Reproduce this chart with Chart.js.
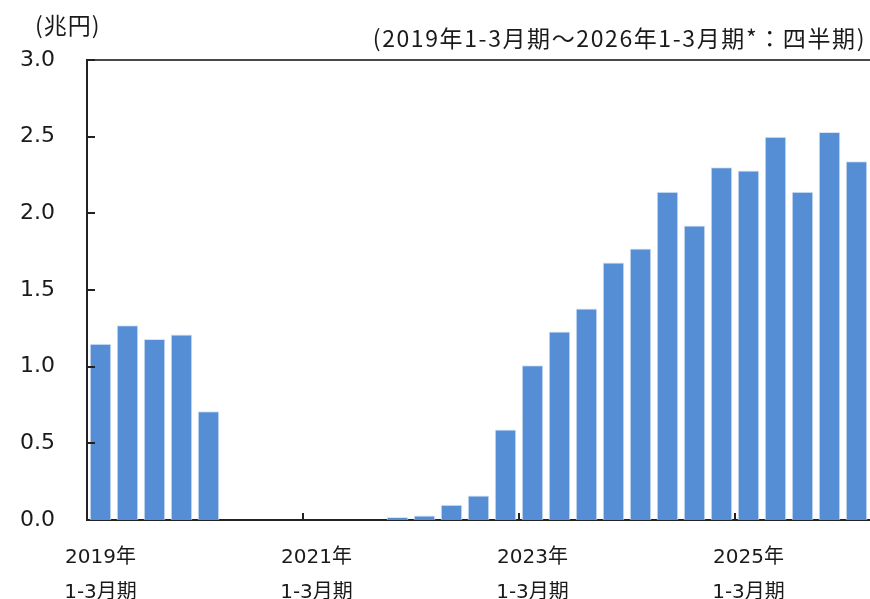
<!DOCTYPE html>
<html>
<head>
<meta charset="utf-8">
<script src="https://cdn.jsdelivr.net/npm/chart.js@4"></script>
<style>
  html, body { margin: 0; padding: 0; background: #fff; }
  #wrap { width: 870px; height: 599px; }
</style>
</head>
<body>
<div id="wrap"><canvas id="c" width="870" height="599"></canvas></div>
<script>
// Quarterly amounts (trillion yen), 2019 Jan-Mar to 2026 Jan-Mar
const quarters = [
  '2019年1-3月期', '2019年4-6月期', '2019年7-9月期', '2019年10-12月期',
  '2020年1-3月期', '2020年4-6月期', '2020年7-9月期', '2020年10-12月期',
  '2021年1-3月期', '2021年4-6月期', '2021年7-9月期', '2021年10-12月期',
  '2022年1-3月期', '2022年4-6月期', '2022年7-9月期', '2022年10-12月期',
  '2023年1-3月期', '2023年4-6月期', '2023年7-9月期', '2023年10-12月期',
  '2024年1-3月期', '2024年4-6月期', '2024年7-9月期', '2024年10-12月期',
  '2025年1-3月期', '2025年4-6月期', '2025年7-9月期', '2025年10-12月期',
  '2026年1-3月期'
];
const amounts = [
  1.15, 1.27, 1.18, 1.21,
  0.71, 0, 0, 0,
  0, 0, 0, 0.02,
  0.03, 0.10, 0.16, 0.59,
  1.01, 1.23, 1.38, 1.68,
  1.77, 2.14, 1.92, 2.30,
  2.28, 2.50, 2.14, 2.53,
  2.34
];
// Axis tick labels shown under every eighth quarter
const xTickLabels = {
  0: ['2019年', '1-3月期'],
  8: ['2021年', '1-3月期'],
  16: ['2023年', '1-3月期'],
  24: ['2025年', '1-3月期']
};
const yTicks = [0, 0.5, 1.0, 1.5, 2.0, 2.5, 3.0];
const unitLabel = '(兆円)';
const periodNote = '(2019年1-3月期～2026年1-3月期*：四半期)';

const FONT = '"DejaVu Sans", "Noto Sans CJK JP", sans-serif';
const HEADER_FONT = '23px "Noto Sans CJK JP", sans-serif';

// Inward tick marks, top frame line and header texts
const decor = {
  id: 'decor',
  afterDraw(chart) {
    const ctx = chart.ctx;
    const area = chart.chartArea;
    const xs = chart.scales.x, ys = chart.scales.y;
    ctx.save();
    ctx.strokeStyle = '#4a4a4a';
    ctx.lineWidth = 2;
    ctx.beginPath();
    ctx.moveTo(area.left, area.top);
    ctx.lineTo(area.right, area.top);
    ctx.stroke();

    ctx.strokeStyle = '#222';
    ctx.lineWidth = 2;
    yTicks.forEach(v => {
      if (v === 0) return;
      const y = Math.round(ys.getPixelForValue(v));
      ctx.beginPath();
      ctx.moveTo(area.left, y);
      ctx.lineTo(area.left + 8, y);
      ctx.stroke();
    });
    Object.keys(xTickLabels).forEach(k => {
      const i = Number(k);
      if (i === 0) return;
      const x = Math.round((xs.getPixelForValue(i - 1) + xs.getPixelForValue(i)) / 2);
      ctx.beginPath();
      ctx.moveTo(x, area.bottom);
      ctx.lineTo(x, area.bottom - 7);
      ctx.stroke();
    });

    ctx.fillStyle = '#1a1a1a';
    ctx.font = HEADER_FONT;
    ctx.textBaseline = 'alphabetic';
    ctx.letterSpacing = '1px';
    ctx.textAlign = 'left';
    ctx.fillText(unitLabel, 35, 34);
    ctx.letterSpacing = '1.6px';
    ctx.textAlign = 'right';
    ctx.fillText(periodNote, 866, 47);
    ctx.letterSpacing = '0px';
    ctx.restore();
  }
};

new Chart(document.getElementById('c'), {
  type: 'bar',
  data: {
    labels: quarters,
    datasets: [{
      data: amounts,
      backgroundColor: '#558ed5',
      borderColor: 'rgba(215,228,246,0.95)',
      borderWidth: ctx => (ctx.raw > 0 ? 1 : 0),
      borderSkipped: 'start',
      barPercentage: 0.8,
      categoryPercentage: 1.0
    }]
  },
  options: {
    responsive: false,
    animation: false,
    devicePixelRatio: 1,
    layout: { padding: { top: 60, left: 0, right: 0, bottom: 0 } },
    plugins: { legend: { display: false }, tooltip: { enabled: false } },
    scales: {
      x: {
        offset: true,
        grid: { display: false, drawTicks: false },
        border: { display: true, color: '#222', width: 2 },
        ticks: {
          autoSkip: false,
          maxRotation: 0,
          minRotation: 0,
          padding: 20,
          color: '#1a1a1a',
          font: { family: FONT, size: 20, lineHeight: 1.75 },
          callback: (v, i) => xTickLabels[i] || ''
        },
        afterFit: s => { s.height = 79; s.paddingLeft = 0; s.paddingRight = 0; }
      },
      y: {
        min: 0,
        max: 3,
        grid: { display: false, drawTicks: false },
        border: { display: true, color: '#222', width: 2 },
        afterBuildTicks: s => { s.ticks = yTicks.map(v => ({ value: v })); },
        ticks: {
          padding: 32,
          color: '#1a1a1a',
          font: { family: FONT, size: 22 },
          callback: v => Number(v).toFixed(1)
        },
        afterFit: s => { s.width = 87; }
      }
    }
  },
  plugins: [decor]
});
</script>
</body>
</html>
